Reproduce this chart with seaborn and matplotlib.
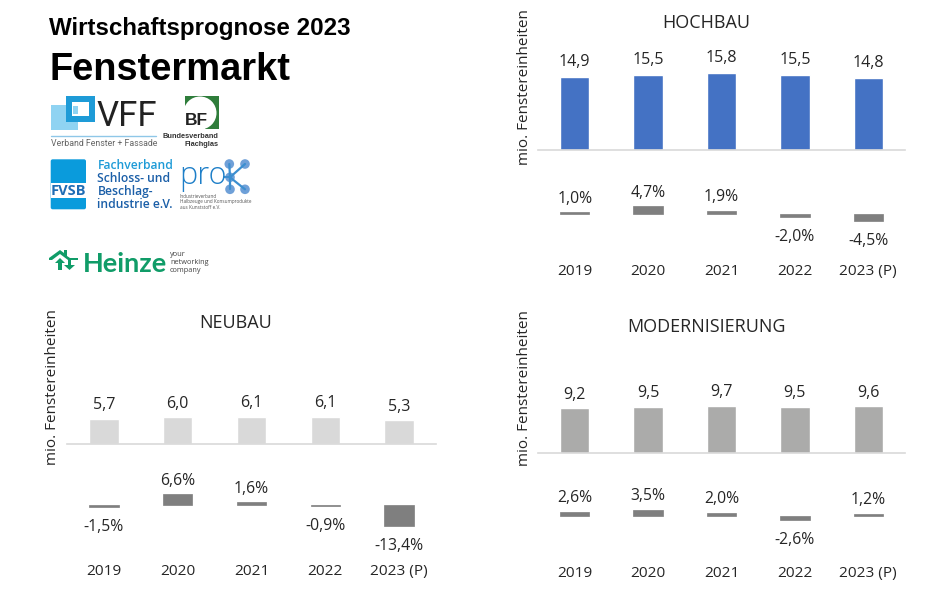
import matplotlib
matplotlib.use("Agg")
import matplotlib.pyplot as plt
from matplotlib.patches import Rectangle, FancyBboxPatch, Circle, Polygon
import seaborn as sns

years = ["2019", "2020", "2021", "2022", "2023 (P)"]

hochbau_werte = [14.9, 15.5, 15.8, 15.5, 14.8]
hochbau_proz = [1.0, 4.7, 1.9, -2.0, -4.5]
neubau_werte = [5.7, 6.0, 6.1, 6.1, 5.3]
neubau_proz = [-1.5, 6.6, 1.6, -0.9, -13.4]
modern_werte = [9.2, 9.5, 9.7, 9.5, 9.6]
modern_proz = [2.6, 3.5, 2.0, -2.6, 1.2]

W, H = 927, 592
TEXT = "#262626"
GREY_BAR = "#7F7F7F"
LINE = "#D9D9D9"

sns.set_theme(style="white")
plt.rcParams["font.family"] = ["Open Sans", "DejaVu Sans"]

fig = plt.figure(figsize=(W / 100, H / 100), dpi=100, facecolor="white")


def de(v, suffix=""):
    return f"{v:.1f}".replace(".", ",") + suffix


def pixel_axes(left, right, top, bottom):
    return fig.add_axes([left / W, 1 - bottom / H, (right - left) / W, (bottom - top) / H])


def panel(title, werte, proz, color, left, right, base, scale, pbase, pscale,
          title_x, title_y, year_y, label_x, label_y, val_pad):
    # oberer Teil: absolute Werte
    ax = pixel_axes(left, right, base - 100, base)
    sns.barplot(x=years, y=werte, color=color, saturation=1, width=0.4, ax=ax)
    ax.set_xlim(-0.5, 4.5)
    ax.set_ylim(0, 100 / scale)
    ax.set_yticks([])
    ax.set_xticks([])
    ax.set_facecolor("none")
    sns.despine(ax=ax, left=True)
    ax.spines["bottom"].set_color(LINE)
    ax.spines["bottom"].set_linewidth(1.2)
    ax.bar_label(ax.containers[0], labels=[de(v) for v in werte], padding=val_pad,
                 fontsize=11.5, color=TEXT)

    # unterer Teil: Veraenderung in Prozent
    ax2 = pixel_axes(left, right, pbase - 50, year_y - 8)
    sns.barplot(x=years, y=proz, color=GREY_BAR, saturation=1, width=0.4,
                edgecolor=GREY_BAR, linewidth=0.5, ax=ax2)
    ax2.set_xlim(-0.5, 4.5)
    ax2.set_ylim(-(year_y - 8 - pbase) / pscale, 50 / pscale)
    ax2.set_yticks([])
    ax2.set_facecolor("none")
    ax2.tick_params(axis="x", length=0, pad=1.5, labelsize=11.1, labelcolor=TEXT)
    sns.despine(ax=ax2, left=True, bottom=True)
    # negative Werte stehen im Original etwas weiter weg vom Balken
    ax2.bar_label(ax2.containers[0], labels=[de(v, "%") if v >= 0 else "" for v in proz],
                  padding=4, fontsize=11.3, color=TEXT)
    ax2.bar_label(ax2.containers[0], labels=[de(v, "%") if v < 0 else "" for v in proz],
                  padding=8.5, fontsize=11.3, color=TEXT)

    fig.text(title_x / W, 1 - title_y / H, title, ha="center", va="center",
             fontsize=13, color=TEXT)
    fig.text(label_x / W, 1 - label_y / H, "mio. Fenstereinheiten", rotation=90,
             ha="center", va="center", fontsize=11, color=TEXT)


panel("HOCHBAU", hochbau_werte, hochbau_proz, "#4472C4", 538, 905, 150, 4.87, 214, 1.65,
      706.7, 23, 270, 524, 87, 5)
panel("NEUBAU", neubau_werte, neubau_proz, "#D9D9D9", 67, 436, 444, 4.45, 504.7, 1.58,
      235.7, 323, 570, 53, 387, 4)
panel("MODERNISIERUNG", modern_werte, modern_proz, "#ABABAA", 538, 905, 453, 4.86, 516, 1.72,
      706.7, 327, 572, 524, 388, 4)

# Kopfbereich links: Ueberschriften und Verbandslogos, in Pixeln des Bildes
logo = fig.add_axes([0, 0, 1, 1], facecolor="none")
logo.set_xlim(0, W)
logo.set_ylim(H, 0)
logo.axis("off")

HEAD = ["Liberation Sans", "DejaVu Sans"]
logo.text(49, 28, "Wirtschaftsprognose 2023", family=HEAD, fontweight="bold", fontsize=17.4,
          color="black", va="center")
logo.text(50, 70, "Fenstermarkt", family=HEAD, fontweight="bold", fontsize=27.4,
          color="black", va="center")

# VFF
logo.add_patch(Rectangle((50.7, 105), 27.6, 25, color="#8FD3F2", lw=0))
logo.add_patch(Rectangle((65.7, 96.3), 29.3, 25.4, color="#1E9BD7", lw=0))
logo.add_patch(Rectangle((71.7, 101.7), 17.6, 14.3, color="white", lw=0))
logo.add_patch(Rectangle((73.3, 106), 5, 8, color="#8FD3F2", lw=0))
logo.text(97, 116.5, "VFF", family=["Roboto"], fontsize=25, color="#222222", va="center")
logo.plot([50.7, 155.7], [135.7, 135.7], color="#8FC7E8", lw=1)
logo.text(50.7, 143.5, "Verband Fenster + Fassade", family=["Roboto"], fontsize=6.3,
          color="#666666", va="center")

# Bundesverband Flachglas
logo.add_patch(Rectangle((185.3, 96.3), 33.4, 33, color="#2F7D3B", lw=0))
logo.add_patch(Circle((200, 113), 16.5, color="white", lw=0))
logo.add_patch(Rectangle((185.3, 108), 20, 21.3, color="white", lw=0))
logo.text(196, 120.5, "BF", family=HEAD, fontweight="bold", fontsize=12.5, color="#222222",
          ha="center", va="center")
logo.text(218.5, 136.7, "Bundesverband", family=HEAD, fontweight="bold", fontsize=5.3,
          color="#333333", ha="right", va="center")
logo.text(218.5, 145, "Flachglas", family=HEAD, fontweight="bold", fontsize=5.3,
          color="#333333", ha="right", va="center")

# FVSB
logo.add_patch(FancyBboxPatch((51.7, 160.3), 33.3, 48, boxstyle="round,pad=1,rounding_size=2",
                              color="#0A9BDC", lw=0))
logo.add_patch(Rectangle((50.7, 183.3), 35.3, 14.7, color="white", lw=0))
logo.text(68.3, 191, "FVSB", family=["Open Sans"], fontweight="bold", fontsize=10.5,
          color="#1F6DB5", ha="center", va="center")
for text, y, col in [("Fachverband", 165.7, "#1E9BD7"), ("Schloss- und", 179, "#1B5FA8"),
                     ("Beschlag-", 192, "#1B5FA8"), ("industrie e.V.", 205, "#1B5FA8")]:
    logo.text(97.5, y, text, family=["Open Sans"], fontweight="semibold", fontsize=8.7,
              color=col, va="center")

# pro-K
logo.text(179, 176, "pro", family=["Open Sans"], fontweight="light", fontsize=22,
          color="#1E7FC8", va="center")
nodes_x = [229.3, 245, 230, 230, 245]
nodes_y = [164, 164, 177.3, 189.3, 189.3]
logo.plot([224, 230], [177.3, 177.3], color="#3C8FD0", lw=1.4)
for x, y in zip(nodes_x[:2] + nodes_x[3:], nodes_y[:2] + nodes_y[3:]):
    logo.plot([nodes_x[2], x], [nodes_y[2], y], color="#3C8FD0", lw=1.6)
for x, y in zip(nodes_x, nodes_y):
    logo.add_patch(Circle((x, y), 4.8, color="#6FA0D8", lw=0))
for text, y in [("Industrieverband", 196), ("Halbzeuge und Konsumprodukte", 202),
                ("aus Kunststoff e.V.", 207.7)]:
    logo.text(180, y, text, fontsize=3.3, color="#555555", va="center")

# Heinze
GREEN = "#109C68"
logo.add_patch(Polygon([(49, 258), (60, 250), (64, 253), (64, 250), (67, 250), (67, 256),
                        (70, 258), (78, 258), (78, 260), (68, 260), (60, 254), (52, 260), (49, 260)],
                       color=GREEN, lw=0))
logo.add_patch(Polygon([(55, 263), (60, 258), (65, 263), (62, 263), (62, 270), (58, 270), (58, 263)],
                       color=GREEN, lw=0))
logo.add_patch(Polygon([(68, 260), (71, 260), (71, 265), (75, 265), (69.5, 270), (64, 265), (68, 265)],
                       color=GREEN, lw=0))
logo.text(82.5, 263.5, "Heinze", family=["Lato"], fontweight="bold", fontsize=19.5,
          color=GREEN, va="center")
for text, y in [("your", 255), ("networking", 263), ("company", 271)]:
    logo.text(170, y, text, family=["Open Sans"], fontsize=5.3, color="#444444", va="center")

fig.savefig("out.png", dpi=100)
plt.close(fig)
